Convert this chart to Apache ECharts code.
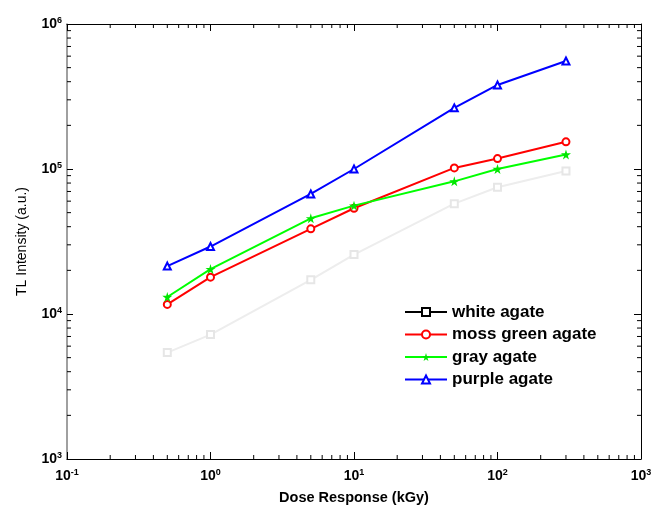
<!DOCTYPE html>
<html><head><meta charset="utf-8">
<script src="https://cdn.jsdelivr.net/npm/echarts@6/dist/echarts.min.js"></script>
<style>html,body{margin:0;padding:0;background:#fff}#c{width:660px;height:513px}</style>
</head><body><div id="c"></div>
<script>
// ---- data ----
const doses = [0.5, 1, 5, 10, 50, 100, 300];
const whiteAgate = [5420, 7210, 17200, 25700, 57700, 74800, 96900];
const mossGreenAgate = [11650, 17960, 38650, 53600, 101700, 118000, 154000];
const grayAgate = [13100, 20400, 45700, 55900, 82200, 100000, 126000];
const purpleAgate = [21400, 29200, 67300, 100000, 264000, 380000, 556000];
const seriesNames = ['white agate', 'moss green agate', 'gray agate', 'purple agate'];
const xDecades = [0.1, 1, 10, 100, 1000];
const yDecades = [1000, 10000, 100000, 1000000];
const minorMultipliers = [2, 3, 4, 5, 6, 7, 8, 9];

const FONT = 'Liberation Sans, Arial, sans-serif';
const X_MIN = 0.1, X_MAX = 1000, Y_MIN = 1000, Y_MAX = 1000000;

function minorValues(decades) {
  const out = [];
  for (let i = 0; i < decades.length - 1; i++) {
    minorMultipliers.forEach(m => out.push(decades[i] * m));
  }
  return out;
}
const xMinor = minorValues(xDecades);
const yMinor = minorValues(yDecades);

function pairs(ys) { return doses.map((d, i) => [d, ys[i]]); }

function labelFmt(v) {
  const e = Math.round(Math.log10(v));
  return '{b|10}{s|' + e + '}';
}
const labelRich = {
  b: { fontSize: 14, fontWeight: 'bold', color: '#000', fontFamily: FONT, lineHeight: 16 },
  s: { fontSize: 9, fontWeight: 'bold', color: '#000', fontFamily: FONT, verticalAlign: 'top', lineHeight: 16, padding: [0, 0, 6, 0] }
};

function minorTicks(values, dir) {
  return {
    type: 'custom', silent: true, clip: false, z: 6,
    xAxisIndex: 0, yAxisIndex: 0,
    data: values.map(v => dir === 'x' ? [v, Y_MIN] : [X_MIN, v]),
    renderItem: function (params, api) {
      const L = 4;
      let segs;
      if (dir === 'x') {
        const v = api.value(0);
        const b = api.coord([v, Y_MIN]), t = api.coord([v, Y_MAX]);
        segs = [[b[0], b[1], b[0], b[1] - L], [t[0], t[1], t[0], t[1] + L]];
      } else {
        const v = api.value(1);
        const l = api.coord([X_MIN, v]), r = api.coord([X_MAX, v]);
        segs = [[l[0], l[1], l[0] + L, l[1]], [r[0], r[1], r[0] - L, r[1]]];
      }
      return {
        type: 'group',
        children: segs.map(s => ({
          type: 'line',
          shape: { x1: s[0], y1: s[1], x2: s[2], y2: s[3] },
          style: { stroke: '#000', lineWidth: 1 }
        }))
      };
    }
  };
}

const starPath = 'path://M50,0 L61,35 L98,35 L68,57 L79,91 L50,70 L21,91 L32,57 L2,35 L39,35 Z';

const chart = echarts.init(document.getElementById('c'), null, { renderer: 'canvas' });
chart.setOption({
  animation: false,
  backgroundColor: '#fff',
  grid: { left: 67, right: 19, top: 24, bottom: 54, containLabel: false },
  legend: {
    orient: 'vertical', left: 404, top: 302, padding: 0,
    itemWidth: 42, itemHeight: 10, itemGap: 2.5,
    textStyle: { fontSize: 17, fontWeight: 'bold', color: '#000', fontFamily: FONT, lineHeight: 20 },
    data: [
      { name: seriesNames[0], itemStyle: { color: '#000' }, lineStyle: { color: '#000', width: 2 } },
      seriesNames[1], seriesNames[2], seriesNames[3]
    ]
  },
  xAxis: [
    {
      type: 'log', min: X_MIN, max: X_MAX, logBase: 10, position: 'bottom',
      name: 'Dose Response (kGy)', nameLocation: 'middle', nameGap: 31,
      nameTextStyle: { fontSize: 14.5, fontWeight: 'bold', color: '#000', fontFamily: FONT },
      axisLine: { lineStyle: { color: '#000', width: 1 } },
      axisTick: { inside: true, length: 7, lineStyle: { color: '#000' } },
      axisLabel: { formatter: labelFmt, rich: labelRich, margin: 9 },
      splitLine: { show: false }, minorTick: { show: false }
    },
    {
      type: 'log', min: X_MIN, max: X_MAX, logBase: 10, position: 'top',
      axisLine: { lineStyle: { color: '#000', width: 1 } },
      axisTick: { inside: true, length: 7, lineStyle: { color: '#000' } },
      axisLabel: { show: false }, splitLine: { show: false }
    }
  ],
  yAxis: [
    {
      type: 'log', min: Y_MIN, max: Y_MAX, logBase: 10, position: 'left',
      name: 'TL Intensity (a.u.)', nameLocation: 'middle', nameGap: 38,
      nameTextStyle: { fontSize: 14, color: '#000', fontFamily: FONT },
      axisLine: { show: true, lineStyle: { color: '#808080', width: 1.5 } },
      axisTick: { inside: true, length: 6, lineStyle: { color: '#000' } },
      axisLabel: { formatter: labelFmt, rich: labelRich, margin: 5 },
      splitLine: { show: false }
    },
    {
      type: 'log', min: Y_MIN, max: Y_MAX, logBase: 10, position: 'right',
      axisLine: { show: true, lineStyle: { color: '#000', width: 1 } },
      axisTick: { inside: true, length: 7, lineStyle: { color: '#000' } },
      axisLabel: { show: false }, splitLine: { show: false }
    }
  ],
  series: [
    {
      name: seriesNames[0], type: 'line', data: pairs(whiteAgate),
      symbol: 'emptyRect', symbolSize: 7,
      lineStyle: { color: '#ededed', width: 2 },
      itemStyle: { color: '#e6e6e6', borderColor: '#e6e6e6' }, z: 2
    },
    {
      name: seriesNames[1], type: 'line', data: pairs(mossGreenAgate),
      symbol: 'emptyCircle', symbolSize: 7,
      lineStyle: { color: '#ff0000', width: 2 },
      itemStyle: { color: '#ff0000' }, z: 3
    },
    {
      name: seriesNames[2], type: 'line', data: pairs(grayAgate),
      symbol: starPath, symbolSize: 10,
      lineStyle: { color: '#00ff00', width: 2 },
      itemStyle: { color: '#00e600' }, z: 4
    },
    {
      name: seriesNames[3], type: 'line', data: pairs(purpleAgate),
      symbol: 'emptyTriangle', symbolSize: 7,
      lineStyle: { color: '#0000ff', width: 2 },
      itemStyle: { color: '#0000ff' }, z: 5
    },
    minorTicks(xMinor, 'x'),
    minorTicks(yMinor, 'y')
  ]
});
</script>
</body></html>
